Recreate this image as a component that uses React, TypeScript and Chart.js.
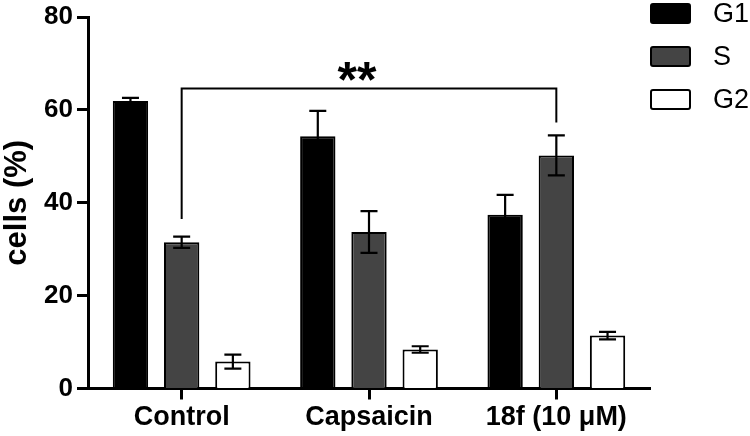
import React, { useEffect, useRef } from "react";
import { Chart, registerables } from "chart.js";

Chart.register(...registerables);

const categories = ["Control", "Capsaicin", "18f (10 \u03bcM)"];
const seriesNames = ["G1", "S", "G2"];
const g1Values = [61.9, 54.3, 37.4];
const g1Errors = [0.7, 5.5, 4.3];
const sValues = [31.5, 33.7, 50.2];
const sErrors = [1.2, 4.5, 4.3];
const g2Values = [5.8, 8.4, 11.4];
const g2Errors = [1.5, 0.7, 0.8];
const yTicks = [0, 20, 40, 60, 80];
const yTitle = "cells (%)";
// significance bracket between S of Control and S of 18f
const bracketLevel = 64.6;
const bracketEnds = [36.5, 57.3];
const bracketLabel = "**";

const seriesColors = ["#000000", "#444444", "#ffffff"];
const FONT = "'Liberation Sans', Arial, Helvetica, sans-serif";

const errorsBySeries = [g1Errors, sErrors, g2Errors];

const overlayPlugin = {
  id: "overlay",
  afterDatasetsDraw(chart: any) {
    const ctx = chart.ctx;
    const y = chart.scales.y;
    ctx.save();
    // error bars
    ctx.strokeStyle = "#000";
    ctx.lineWidth = 2.2;
    chart.data.datasets.forEach((ds: any, di: number) => {
      const meta = chart.getDatasetMeta(di);
      meta.data.forEach((el: any, i: number) => {
        const v = ds.data[i];
        const e = errorsBySeries[di][i];
        const yt = y.getPixelForValue(v + e);
        const yb = y.getPixelForValue(v - e);
        const half = 8.5;
        ctx.beginPath();
        ctx.moveTo(el.x, yt);
        ctx.lineTo(el.x, yb);
        ctx.moveTo(el.x - half, yt);
        ctx.lineTo(el.x + half, yt);
        ctx.moveTo(el.x - half, yb);
        ctx.lineTo(el.x + half, yb);
        ctx.stroke();
      });
    });
    // bracket
    const sMeta = chart.getDatasetMeta(1);
    const xL = sMeta.data[0].x;
    const xR = sMeta.data[2].x;
    const yLvl = y.getPixelForValue(bracketLevel);
    ctx.lineWidth = 2;
    ctx.beginPath();
    ctx.moveTo(xL, y.getPixelForValue(bracketEnds[0]));
    ctx.lineTo(xL, yLvl);
    ctx.lineTo(xR, yLvl);
    ctx.lineTo(xR, y.getPixelForValue(bracketEnds[1]));
    ctx.stroke();
    ctx.fillStyle = "#000";
    ctx.font = "bold 50px " + FONT;
    ctx.textAlign = "center";
    ctx.textBaseline = "alphabetic";
    const m = ctx.measureText(bracketLabel);
    const cy = yLvl - 17.5;
    ctx.fillText(
      bracketLabel,
      (xL + xR) / 2 - 12,
      cy + m.actualBoundingBoxAscent - (m.actualBoundingBoxAscent + m.actualBoundingBoxDescent) / 2
    );
    // legend
    ctx.textAlign = "left";
    ctx.textBaseline = "middle";
    ctx.font = "27px " + FONT;
    chart.data.datasets.forEach((ds: any, di: number) => {
      const top = 3 + di * 43;
      ctx.fillStyle = ds.backgroundColor;
      ctx.strokeStyle = "#000";
      ctx.lineWidth = 2;
      ctx.beginPath();
      if (ctx.roundRect) ctx.roundRect(651, top + 1, 39, 19, 2);
      else ctx.rect(651, top + 1, 39, 19);
      ctx.fill();
      ctx.stroke();
      ctx.fillStyle = "#000";
      ctx.fillText(ds.label, 713, top + 12);
    });
    ctx.restore();
  },
};

export default function App() {
  const ref = useRef<HTMLCanvasElement>(null);
  useEffect(() => {
    const canvas = ref.current;
    if (!canvas) return;
    const values = [g1Values, sValues, g2Values];
    const chart = new Chart(canvas, {
      type: "bar",
      data: {
        labels: categories,
        datasets: seriesNames.map((name, i) => ({
          label: name,
          data: values[i],
          backgroundColor: seriesColors[i],
          borderColor: "#000000",
          borderWidth: 2,
          borderSkipped: "bottom",
          categoryPercentage: 0.82,
          barPercentage: 0.69,
        })),
      },
      options: {
        responsive: false,
        animation: false,
        devicePixelRatio: 1,
        layout: { padding: { top: 15, right: 100, left: 0, bottom: 0 } },
        plugins: {
          legend: { display: false },
          tooltip: { enabled: false },
        },
        scales: {
          x: {
            offset: true,
            z: 1,
            grid: {
              offset: false,
              drawOnChartArea: false,
              drawTicks: true,
              tickLength: 11,
              tickWidth: 3,
              tickColor: "#000",
            },
            border: { display: true, color: "#000", width: 3 },
            ticks: {
              color: "#000",
              font: { family: FONT, size: 27, weight: "bold" },
              padding: 2,
              maxRotation: 0,
              autoSkip: false,
            },
            afterFit: (s: any) => {
              s.height = 47.5;
            },
          },
          y: {
            min: 0,
            max: 80,
            z: 1,
            afterBuildTicks: (s: any) => {
              s.ticks = yTicks.map((v) => ({ value: v }));
            },
            grid: {
              drawOnChartArea: false,
              drawTicks: true,
              tickLength: 11,
              tickWidth: 3,
              tickColor: "#000",
            },
            border: { display: true, color: "#000", width: 3 },
            ticks: {
              color: "#000",
              font: { family: FONT, size: 26, weight: "bold", lineHeight: 1 },
              padding: 4,
            },
            title: {
              display: true,
              text: yTitle,
              color: "#000",
              font: { family: FONT, size: 31, weight: "bold", lineHeight: 1.1 },
              padding: { top: 0, bottom: 0 },
            },
            afterFit: (s: any) => {
              s.width = 88;
            },
          },
        },
      },
      plugins: [overlayPlugin],
    } as any);
    return () => chart.destroy();
  }, []);
  return (
    <div style={{ position: "fixed", left: 0, top: 0, width: 750, height: 436, background: "#fff" }}>
      <canvas ref={ref} width={750} height={436} style={{ display: "block" }} />
    </div>
  );
}
